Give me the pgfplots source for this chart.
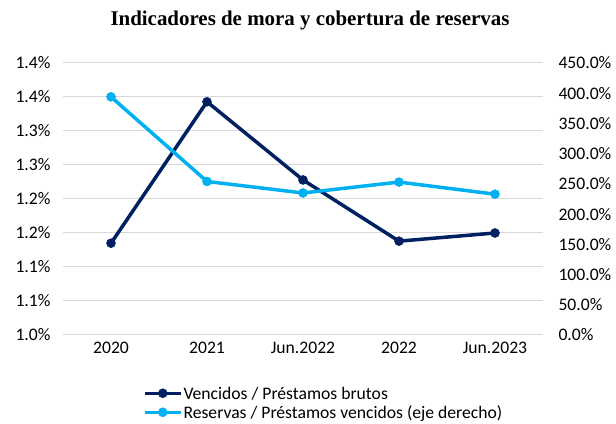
\documentclass[border=0pt]{standalone}
\usepackage{fontspec}
\setmainfont{Carlito}
\newfontfamily\titlefont{Liberation Serif}
\usepackage{pgfplots}
\pgfplotsset{compat=1.18}
\definecolor{navy}{RGB}{0,32,96}
\definecolor{lblue}{RGB}{0,176,240}
\definecolor{gridc}{RGB}{217,217,217}
\begin{document}
\begin{tikzpicture}
\path[use as bounding box] (0,0) rectangle (616bp,424bp);
\node[font=\titlefont\bfseries\fontsize{21}{24}\selectfont] at (310bp,403bp) {Indicadores de mora y cobertura de reservas};
\pgfplotsset{
 base/.style={scale only axis, width=480bp, height=272bp, at={(63bp,89bp)}, anchor=south west,
  xmin=-0.5, xmax=4.5, xtick={0,1,2,3,4}, axis line style={draw=none}, major tick length=0pt,
  tick label style={font=\fontsize{17.7}{20}\selectfont}, clip=false,
  /pgf/number format/assume math mode=true},
 legend image code/.code={\draw[mark repeat=2,mark phase=2,#1] plot coordinates {(0bp,0bp)(18bp,0bp)(36bp,0bp)};}
}
\begin{axis}[base, ymin=1.0, ymax=1.4,
  ytick={1.00,1.05,1.10,1.15,1.20,1.25,1.30,1.35,1.40},
  yticklabels={1.0\%,1.1\%,1.1\%,1.2\%,1.2\%,1.3\%,1.3\%,1.4\%,1.4\%},
  ymajorgrids, grid style={gridc, line width=1bp},
  xticklabels={2020,2021,Jun.2022,2022,Jun.2023},
  yticklabel style={xshift=-9bp},
  xticklabel style={yshift=-4bp}]
\addplot[navy, line width=3.5bp, mark=*, mark size=4.5bp, mark options={solid, line width=0.5bp}]
 coordinates {(0,1.135) (1,1.343) (2,1.228) (3,1.138) (4,1.150)};
\end{axis}
\begin{axis}[base, ymin=0, ymax=450, axis y line*=right, axis x line=none,
  ytick={0,50,100,150,200,250,300,350,400,450},
  yticklabels={0.0\%,50.0\%,100.0\%,150.0\%,200.0\%,250.0\%,300.0\%,350.0\%,400.0\%,450.0\%},
  yticklabel style={anchor=west, xshift=12bp},
  legend style={at={(0.1667,-0.1857)}, anchor=north west, draw=none, fill=none, inner sep=0pt, outer sep=0pt,
   row sep=3.5bp, font=\fontsize{17.7}{20}\selectfont, cells={anchor=west},
   nodes={inner xsep=1bp, inner ysep=0bp, text height=14bp, text depth=1.5bp}}]
\addlegendimage{navy, line width=3.5bp, mark=*, mark size=4.5bp, mark options={solid, line width=0.5bp}}
\addlegendentry{Vencidos / Préstamos brutos}
\addplot[lblue, line width=3.5bp, mark=*, mark size=4.5bp, mark options={solid, line width=0.5bp}]
 coordinates {(0,394) (1,254) (2,235) (3,253) (4,233)};
\addlegendentry{Reservas / Préstamos vencidos (eje derecho)}
\end{axis}
\end{tikzpicture}
\end{document}
